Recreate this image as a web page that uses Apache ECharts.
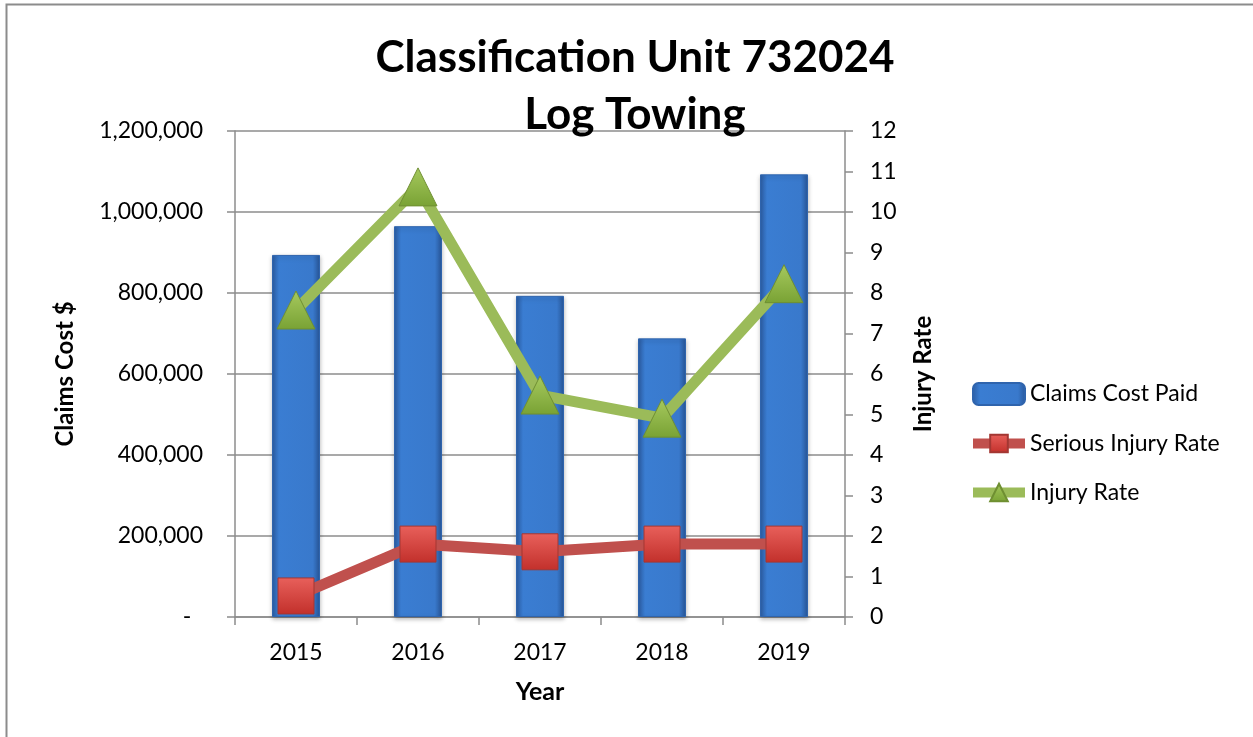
<!DOCTYPE html>
<html>
<head>
<meta charset="utf-8">
<script src="https://cdn.jsdelivr.net/npm/echarts@6/dist/echarts.min.js"></script>
<style>
  html, body { margin: 0; padding: 0; background: #fff; }
  #main { width: 1253px; height: 737px; }
</style>
</head>
<body>
<div id="main"></div>
<script>
// 数据
const years = ['2015', '2016', '2017', '2018', '2019']
const claimsCost = [894000, 965000, 793000, 688000, 1093000]
const seriousRate = [0.52, 1.80, 1.61, 1.80, 1.80]
const injuryRate = [7.58, 10.62, 5.48, 4.91, 8.23]

const chart = echarts.init(document.getElementById('main'))
const font = 'Lato'
const grey = '#8c8c8c'

const option = {
  backgroundColor: '#fff',
  textStyle: { fontFamily: font },
  title: {
    text: 'Classification Unit 732024\nLog Towing',
    left: 630,
    textAlign: 'center',
    top: 24,
    textStyle: {
      fontFamily: font,
      fontSize: 44,
      fontWeight: 'bold',
      color: '#000',
      lineHeight: 57
    }
  },
  // 外框
  graphic: [{
    type: 'rect',
    shape: { x: 6.5, y: 4.5, width: 1300, height: 800 },
    style: { fill: null, stroke: grey, lineWidth: 2 },
    silent: true
  }],
  legend: {
    orient: 'vertical',
    left: 968,
    top: 382,
    padding: 0,
    itemWidth: 52,
    itemHeight: 22,
    itemGap: 26,
    lineStyle: { width: 10 },
    textStyle: { fontFamily: font, fontSize: 23, color: '#000' },
    data: ['Claims Cost Paid', 'Serious Injury Rate', 'Injury Rate']
  },
  grid: {
    left: 235,
    right: 408,
    top: 131,
    bottom: 120,
    containLabel: false
  },
  xAxis: {
    type: 'category',
    data: years,
    name: 'Year',
    nameLocation: 'middle',
    nameGap: 62,
    nameTextStyle: { fontFamily: font, fontSize: 25, fontWeight: 'bold', color: '#000' },
    axisLine: { lineStyle: { color: grey, width: 1.5 } },
    axisTick: { show: true, length: 8, lineStyle: { color: grey, width: 1.5 } },
    axisLabel: { margin: 24, fontFamily: font, fontSize: 23, color: '#000' }
  },
  yAxis: [
    {
      type: 'value',
      min: 0,
      max: 1200000,
      interval: 200000,
      name: 'Claims Cost $',
      nameLocation: 'middle',
      nameGap: 158,
      nameRotate: 90,
      nameTextStyle: { fontFamily: font, fontSize: 24, fontWeight: 'bold', color: '#000' },
      axisLine: { show: true, lineStyle: { color: grey, width: 1.5 } },
      axisTick: { show: true, length: 8, lineStyle: { color: grey, width: 1.5 } },
      splitLine: { show: true, lineStyle: { color: grey, width: 1.5 } },
      axisLabel: {
        margin: 32,
        fontFamily: font,
        fontSize: 23,
        color: '#000',
        formatter: v => v === 0 ? '-  ' : v.toLocaleString('en-US')
      }
    },
    {
      type: 'value',
      min: 0,
      max: 12,
      interval: 1,
      name: 'Injury Rate',
      nameLocation: 'middle',
      nameGap: 66,
      nameRotate: 90,
      nameTextStyle: { fontFamily: font, fontSize: 24, fontWeight: 'bold', color: '#000' },
      axisLine: { show: true, lineStyle: { color: grey, width: 1.5 } },
      axisTick: { show: true, length: 8, lineStyle: { color: grey, width: 1.5 } },
      splitLine: { show: false },
      axisLabel: { margin: 25, fontFamily: font, fontSize: 23, color: '#000' }
    }
  ],
  series: [
    {
      name: 'Claims Cost Paid',
      type: 'bar',
      yAxisIndex: 0,
      barWidth: 48,
      data: claimsCost,
      itemStyle: {
        color: new echarts.graphic.LinearGradient(0, 0, 1, 0, [
          { offset: 0, color: '#2b5ca2' },
          { offset: 0.15, color: '#3a7dd2' },
          { offset: 0.85, color: '#3979cc' },
          { offset: 1, color: '#28579a' }
        ]),
        borderColor: '#2f64ad',
        borderWidth: 1,
        shadowColor: 'rgba(0,0,0,0.25)',
        shadowBlur: 4,
        shadowOffsetY: 2
      }
    },
    {
      name: 'Serious Injury Rate',
      type: 'line',
      yAxisIndex: 1,
      data: seriousRate,
      symbol: 'rect',
      symbolSize: 36,
      lineStyle: { color: '#c0504d', width: 11 },
      itemStyle: {
        color: new echarts.graphic.LinearGradient(0, 0, 0, 1, [
          { offset: 0, color: '#e8605b' },
          { offset: 1, color: '#c2302b' }
        ]),
        borderColor: '#a33733',
        borderWidth: 1
      },
      z: 3
    },
    {
      name: 'Injury Rate',
      type: 'line',
      yAxisIndex: 1,
      data: injuryRate,
      symbol: 'triangle',
      symbolSize: 38,
      lineStyle: { color: '#9bbb59', width: 11 },
      itemStyle: {
        color: new echarts.graphic.LinearGradient(0, 0, 0, 1, [
          { offset: 0, color: '#a6c95e' },
          { offset: 1, color: '#79a234' }
        ]),
        borderColor: '#6f8f32',
        borderWidth: 1
      },
      z: 4
    }
  ]
}
chart.setOption(option)
</script>
</body>
</html>
